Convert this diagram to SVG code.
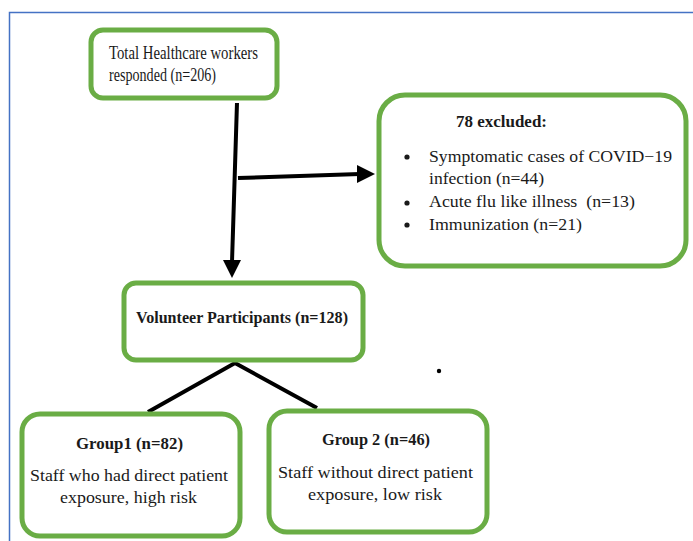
<svg xmlns="http://www.w3.org/2000/svg" width="693" height="541" viewBox="0 0 693 541">
<defs>
<style>
.box{fill:#fff;stroke:#6aad45;stroke-width:5}
text{font-family:"Liberation Serif","DejaVu Serif","Times New Roman",serif;fill:#1a1a1a}
.b{font-weight:bold;font-size:16.5px}
.r{font-size:17.5px}
.ln{stroke:#000;stroke-width:4;fill:none}
.hd{fill:#000}
</style>
</defs>
<rect width="693" height="541" fill="#fff"/>
<path d="M9.5,541 V12.5 H693" fill="none" stroke="#4472c4" stroke-width="1.5"/>
<g id="connectors">
<path class="ln" d="M237,103 L232,262"/>
<path class="hd" d="M223,260 L241,260 L232,278 Z"/>
<path class="ln" d="M238,178 L360,174"/>
<path class="hd" d="M357,165 L375,174 L357,183 Z"/>
<path class="ln" d="M148,412 L235,363 L317,408"/>
</g>
<g id="total">
<rect class="box" x="91" y="30" width="186" height="68" rx="12"/>
<text x="109" y="59" font-size="18.5" textLength="149" lengthAdjust="spacingAndGlyphs">Total Healthcare workers</text>
<text x="109" y="81" font-size="18.5" textLength="107" lengthAdjust="spacingAndGlyphs">responded (n=206)</text>
</g>
<g id="excluded">
<rect class="box" x="379" y="95" width="307" height="171" rx="26"/>
<text class="b" x="456" y="127" textLength="91" lengthAdjust="spacingAndGlyphs">78 excluded:</text>
<circle cx="407" cy="157" r="2.6" fill="#1a1a1a"/>
<circle cx="407" cy="203" r="2.6" fill="#1a1a1a"/>
<circle cx="407" cy="225" r="2.6" fill="#1a1a1a"/>
<text class="r" x="429" y="162" textLength="243" lengthAdjust="spacingAndGlyphs">Symptomatic cases of COVID−19</text>
<text class="r" x="429" y="184" textLength="115" lengthAdjust="spacingAndGlyphs">infection (n=44)</text>
<text class="r" x="429" y="207" textLength="206" lengthAdjust="spacingAndGlyphs" xml:space="preserve">Acute flu like illness  (n=13)</text>
<text class="r" x="429" y="230" textLength="153" lengthAdjust="spacingAndGlyphs">Immunization (n=21)</text>
</g>
<g id="volunteer">
<rect class="box" x="124" y="283" width="239" height="77" rx="12"/>
<text class="b" x="136" y="323" textLength="212" lengthAdjust="spacingAndGlyphs">Volunteer Participants (n=128)</text>
</g>
<g id="group1">
<rect class="box" x="22" y="414" width="218" height="122" rx="18"/>
<text class="b" x="76" y="449" textLength="107" lengthAdjust="spacingAndGlyphs">Group1 (n=82)</text>
<text class="r" x="30" y="481" textLength="198" lengthAdjust="spacingAndGlyphs">Staff who had direct patient</text>
<text class="r" x="60" y="503" textLength="137" lengthAdjust="spacingAndGlyphs">exposure, high risk</text>
</g>
<g id="group2">
<rect class="box" x="269" y="411" width="218" height="121" rx="18"/>
<text class="b" x="322" y="445" textLength="108" lengthAdjust="spacingAndGlyphs">Group 2 (n=46)</text>
<text class="r" x="278" y="478" textLength="195" lengthAdjust="spacingAndGlyphs">Staff without direct patient</text>
<text class="r" x="308" y="500" textLength="134" lengthAdjust="spacingAndGlyphs">exposure, low risk</text>
</g>
<circle cx="439" cy="371" r="2.2" fill="#000"/>
</svg>
